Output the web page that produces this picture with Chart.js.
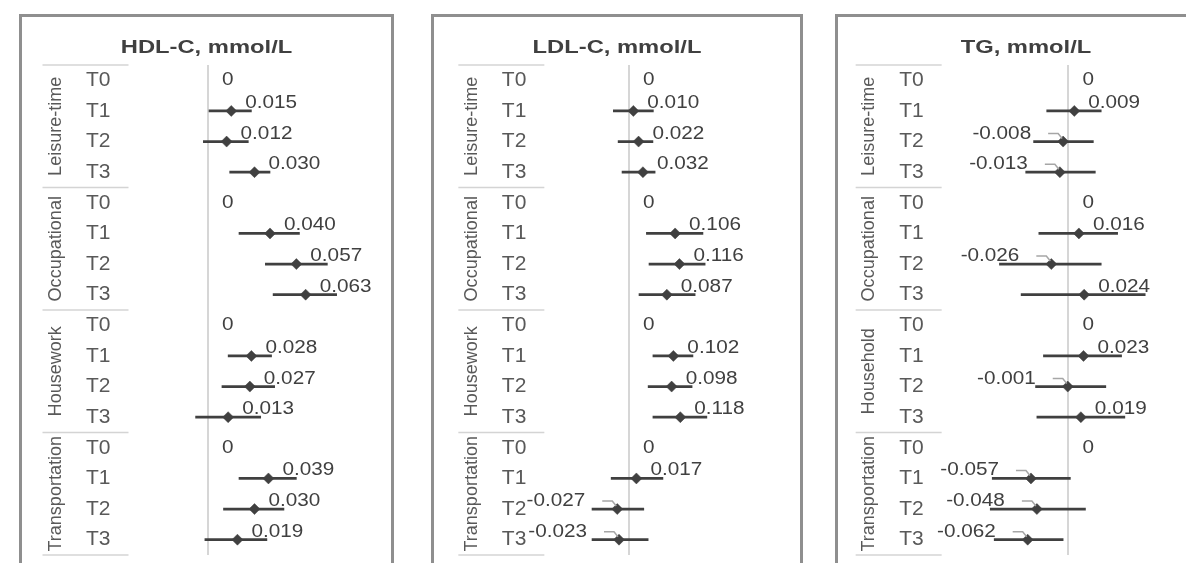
<!DOCTYPE html>
<html>
<head>
<meta charset="utf-8">
<script src="https://cdn.jsdelivr.net/npm/chart.js@4.4.1/dist/chart.umd.min.js"></script>
<style>
html,body{margin:0;padding:0;background:#fff;width:1186px;height:563px;overflow:hidden;position:relative;}
canvas{position:absolute;left:0;top:0;}
.box{position:absolute;border:3px solid #8f8f8f;box-sizing:border-box;}
</style>
</head>
<body>
<div class="box" style="left:19px;top:14px;width:375px;height:620px"></div>
<div class="box" style="left:431px;top:14px;width:372px;height:620px"></div>
<div class="box" style="left:835px;top:14px;width:420px;height:620px"></div>
<canvas id="c1" width="1186" height="563"></canvas>
<canvas id="c2" width="1186" height="563"></canvas>
<canvas id="c3" width="1186" height="563"></canvas>
<script>
// ---------- DATA ----------
const categories = ['T0','T1','T2','T3','T0','T1','T2','T3','T0','T1','T2','T3','T0','T1','T2','T3'];
const groupsA = ['Leisure-time','Occupational','Housework','Transportation'];
const groupsTG = ['Leisure-time','Occupational','Household','Transportation'];

const hdlEst  = [0, 0.015, 0.012, 0.030,  0, 0.040, 0.057, 0.063,  0, 0.028, 0.027, 0.013,  0, 0.039, 0.030, 0.019];
const hdlLow  = [null, 0.000, -0.003, 0.014,  null, 0.020, 0.037, 0.042,  null, 0.013, 0.009, -0.008,  null, 0.020, 0.010, -0.002];
const hdlHigh = [null, 0.028, 0.026, 0.040,  null, 0.059, 0.077, 0.083,  null, 0.041, 0.043, 0.034,  null, 0.057, 0.049, 0.038];

const ldlEst  = [0, 0.010, 0.022, 0.032,  0, 0.106, 0.116, 0.087,  0, 0.102, 0.098, 0.118,  0, 0.017, -0.027, -0.023];
const ldlLow  = [null, -0.036, -0.025, -0.016,  null, 0.040, 0.046, 0.023,  null, 0.055, 0.044, 0.055,  null, -0.041, -0.085, -0.085];
const ldlHigh = [null, 0.056, 0.055, 0.060,  null, 0.170, 0.175, 0.152,  null, 0.147, 0.145, 0.179,  null, 0.078, 0.034, 0.044];

const tgEst  = [0, 0.009, -0.008, -0.013,  0, 0.016, -0.026, 0.024,  0, 0.023, -0.001, 0.019,  0, -0.057, -0.048, -0.062];
const tgLow  = [null, -0.033, -0.053, -0.065,  null, -0.045, -0.105, -0.072,  null, -0.038, -0.050, -0.048,  null, -0.116, -0.119, -0.113];
const tgHigh = [null, 0.050, 0.038, 0.041,  null, 0.075, 0.050, 0.117,  null, 0.081, 0.057, 0.086,  null, 0.003, 0.026, -0.008];

// ---------- RENDERING ----------
const W = 1186, H = 563;
const DARK = '#404040';
const AXIS_GRAY = '#595959';

const panelPlugin = {
  id: 'panelDecor',
  afterDatasetsDraw(chart, args, opts) {
    const ctx = chart.ctx;
    const xs = chart.scales.x, ys = chart.scales.y;
    const area = chart.chartArea;
    const n = categories.length;
    const pY = i => ys.getPixelForValue(i);
    const half = (pY(1) - pY(0)) / 2;
    ctx.save();
    // title
    ctx.fillStyle = DARK;
    ctx.font = 'bold 19px "Liberation Sans", Arial, sans-serif';
    ctx.textAlign = 'center';
    ctx.textBaseline = 'alphabetic';
    ctx.save();
    ctx.translate(opts.titleX, 53);
    ctx.scale(1.25, 1);
    ctx.fillText(opts.title, 0, 0);
    ctx.restore();

    // group separators
    ctx.strokeStyle = '#d4d4d4';
    ctx.lineWidth = 1.5;
    for (let g = 0; g <= opts.groups.length; g++) {
      const yy = g === opts.groups.length ? pY(n - 1) + half : pY(g * 4) - half;
      ctx.beginPath();
      ctx.moveTo(area.left - 88, yy);
      ctx.lineTo(area.left - 2, yy);
      ctx.stroke();
    }
    // group labels (rotated)
    ctx.fillStyle = AXIS_GRAY;
    ctx.font = '19px "Liberation Sans", Arial, sans-serif';
    ctx.textAlign = 'center';
    ctx.textBaseline = 'middle';
    opts.groups.forEach((g, gi) => {
      const cy = (pY(gi * 4) + pY(gi * 4 + 3)) / 2;
      ctx.save();
      ctx.translate(area.left - 75, cy);
      ctx.rotate(-Math.PI / 2);
      ctx.scale(0.95, 1);
      ctx.fillText(g, 0, 0);
      ctx.restore();
    });

    // data labels
    const est = chart.data.datasets[1].data;
    ctx.font = '18px "Liberation Sans", Arial, sans-serif';
    ctx.textBaseline = 'middle';
    est.forEach((v, i) => {
      if (v === null || v === undefined) return;
      const px = xs.getPixelForValue(v);
      const py = pY(i);
      const txt = v === 0 ? '0' : v.toFixed(3);
      ctx.fillStyle = DARK;
      ctx.save();
      if (categories[i] === 'T0') {
        ctx.translate(px + 14, py);
        ctx.scale(1.15, 1);
        ctx.textAlign = 'left';
        ctx.fillText(txt, 0, 0);
      } else if (v >= 0) {
        ctx.translate(px + 14, py - 8);
        ctx.scale(1.15, 1);
        ctx.textAlign = 'left';
        ctx.fillText(txt, 0, 0);
      } else {
        ctx.translate(px - 32, py - 8);
        ctx.scale(1.15, 1);
        ctx.textAlign = 'right';
        ctx.fillText(txt, 0, 0);
      }
      ctx.restore();
      if (v < 0) {
        ctx.strokeStyle = '#a6a6a6';
        ctx.lineWidth = 1.5;
        ctx.beginPath();
        ctx.moveTo(px - 15, py - 8);
        ctx.lineTo(px - 5, py - 8);
        ctx.lineTo(px - 1, py - 3);
        ctx.stroke();
      }
    });
    ctx.restore();
  }
};

function makePanel(id, cfg) {
  const left = cfg.zeroX + cfg.min * cfg.ppu;
  const right = cfg.zeroX + cfg.max * cfg.ppu;
  const ci = cfg.low.map((l, i) => (l === null ? null : [l, cfg.high[i]]));
  new Chart(document.getElementById(id), {
    type: 'bar',
    data: {
      labels: categories,
      datasets: [
        {
          type: 'bar',
          indexAxis: 'y',
          data: ci,
          backgroundColor: DARK,
          borderWidth: 0,
          barThickness: 2,
          order: 2
        },
        {
          type: 'line',
          indexAxis: 'y',
          data: cfg.est,
          showLine: false,
          pointStyle: 'rectRot',
          pointRadius: c => (categories[c.dataIndex] === 'T0' ? 0 : 5.5),
          pointBackgroundColor: DARK,
          pointBorderColor: DARK,
          pointBorderWidth: 0.5,
          order: 1
        }
      ]
    },
    options: {
      indexAxis: 'y',
      responsive: false,
      animation: false,
      devicePixelRatio: 1,
      events: [],
      layout: { padding: { left: 0, top: 65, right: W - right, bottom: 8 } },
      plugins: {
        legend: { display: false },
        tooltip: { enabled: false },
        title: { display: false },
        panelDecor: { title: cfg.title, titleX: cfg.titleX, groups: cfg.groups }
      },
      scales: {
        x: {
          type: 'linear',
          min: cfg.min,
          max: cfg.max,
          position: 'bottom',
          afterBuildTicks: s => { s.ticks = [{ value: 0 }]; },
          afterFit: s => { s.height = 0; s.paddingLeft = 0; s.paddingRight = 0; },
          ticks: { display: false },
          grid: { color: '#d6d6d6', lineWidth: 2, drawTicks: false },
          border: { display: false }
        },
        y: {
          type: 'category',
          position: 'left',
          afterFit: s => { s.width = left; s.paddingTop = 0; s.paddingBottom = 0; },
          ticks: {
            color: AXIS_GRAY,
            padding: 20,
            autoSkip: false,
            font: { family: '"Liberation Sans", Arial, sans-serif', size: 21 }
          },
          grid: { display: false, drawTicks: false },
          border: { display: false }
        }
      }
    },
    plugins: [panelPlugin]
  });
}

makePanel('c1', { title: 'HDL-C, mmol/L', titleX: 206.5, groups: groupsA, est: hdlEst, low: hdlLow, high: hdlHigh,
  zeroX: 208, ppu: 1550, min: -0.05, max: 0.115 });
makePanel('c2', { title: 'LDL-C, mmol/L', titleX: 617, groups: groupsA, est: ldlEst, low: ldlLow, high: ldlHigh,
  zeroX: 629, ppu: 435, min: -0.19, max: 0.38 });
makePanel('c3', { title: 'TG, mmol/L', titleX: 1026, groups: groupsTG, est: tgEst, low: tgLow, high: tgHigh,
  zeroX: 1070, ppu: 665, min: -0.19, max: 0.17 });
</script>
</body>
</html>
